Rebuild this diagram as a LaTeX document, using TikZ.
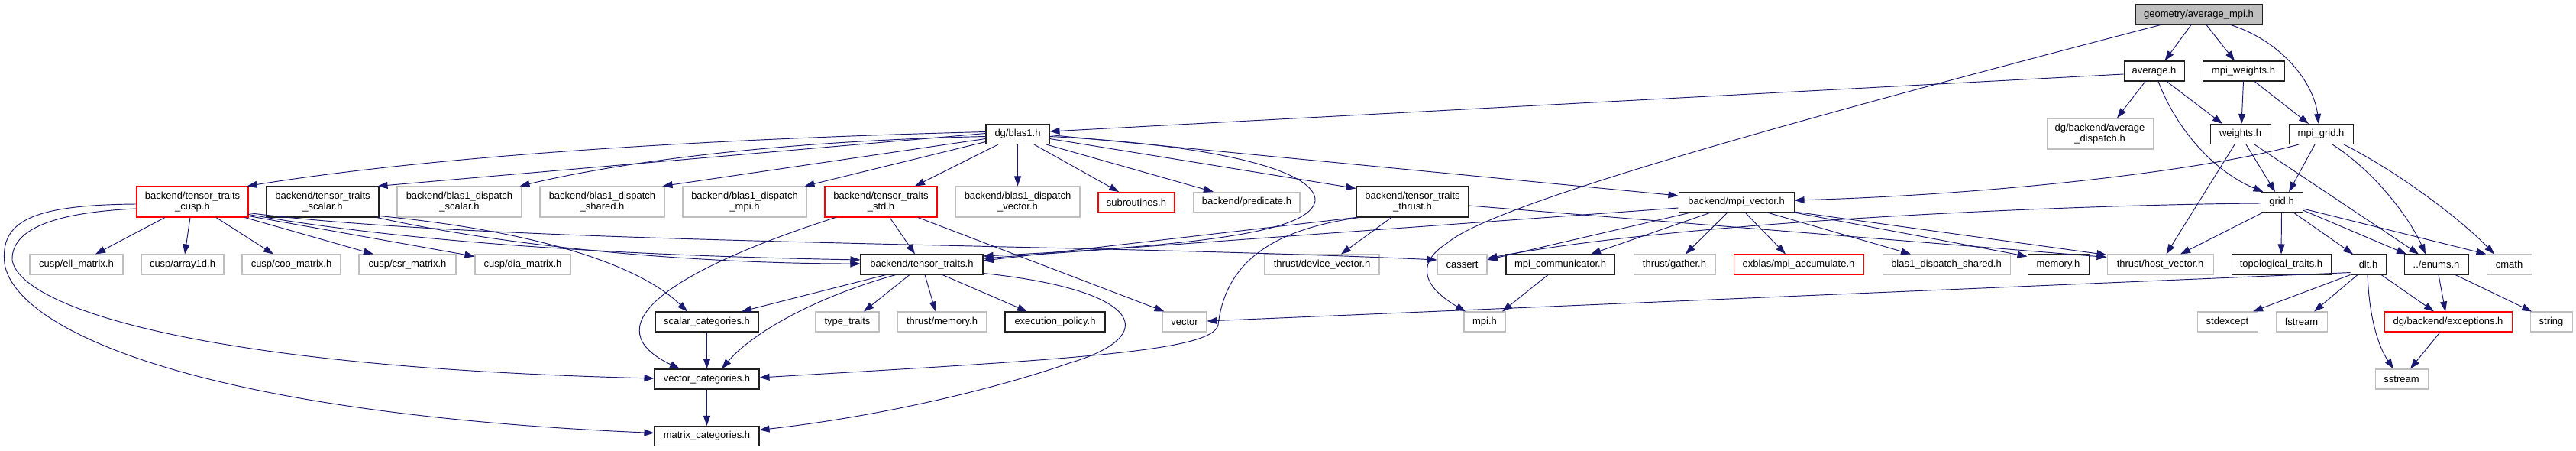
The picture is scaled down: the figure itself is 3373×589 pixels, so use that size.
\documentclass[tikz,border=0pt]{standalone}
\usepackage{fontspec}
\setmainfont{Liberation Sans}
\usetikzlibrary{arrows.meta}
\definecolor{edgec}{HTML}{191970}
\definecolor{extb}{HTML}{BFBFBF}
\definecolor{rootf}{HTML}{BFBFBF}
\definecolor{docb}{HTML}{202020}
\begin{document}
\begin{tikzpicture}[x=1pt,y=-1pt,
  nd/.style={draw, rectangle, line width=1.05pt, inner sep=0pt, align=center,
    font=\fontsize{13}{14}\selectfont, fill=white, minimum height=26pt},
  blk/.style={nd, draw=docb},
  ext/.style={nd, draw=extb},
  inc/.style={nd, draw=red},
  two/.style={minimum height=40pt},
  e/.style={draw=edgec, line width=0.95pt, -{Triangle[length=13pt,width=9pt]}}]
\useasboundingbox (0,0) rectangle (3373,589);
\fill[white] (0,0) rectangle (3373,589);
% row 0-2
\node[blk, fill=rootf, minimum width=166pt] (avgmpi) at (2879,19) {geometry/average\_mpi.h};
\node[blk, minimum width=79pt] (average) at (2820.5,93) {average.h};
\node[blk, minimum width=107pt] (mpiweights) at (2937.5,93) {mpi\_weights.h};
\node[blk, minimum width=83pt] (blas1) at (1332.5,175.5) {dg/blas1.h};
\node[ext, two, minimum width=139pt] (avgdisp) at (2749.5,175) {dg/backend/average\\\_dispatch.h};
\node[blk, minimum width=79pt] (weights) at (2933.5,175.5) {weights.h};
\node[blk, minimum width=84pt] (mpigrid) at (3039,175.5) {mpi\_grid.h};
% row 3
\node[inc, two, minimum width=146pt] (ttcusp) at (252,264) {backend/tensor\_traits\\\_cusp.h};
\node[blk, two, minimum width=147pt] (ttscalar) at (422.5,264) {backend/tensor\_traits\\\_scalar.h};
\node[ext, two, minimum width=163pt] (bdscalar) at (601.5,264) {backend/blas1\_dispatch\\\_scalar.h};
\node[ext, two, minimum width=163pt] (bdshared) at (788.5,264) {backend/blas1\_dispatch\\\_shared.h};
\node[ext, two, minimum width=162pt] (bdmpi) at (975,264) {backend/blas1\_dispatch\\\_mpi.h};
\node[inc, two, minimum width=147pt] (ttstd) at (1153.5,264) {backend/tensor\_traits\\\_std.h};
\node[ext, two, minimum width=163pt] (bdvector) at (1332.5,264) {backend/blas1\_dispatch\\\_vector.h};
\node[inc, minimum width=100pt] (subroutines) at (1488,264.5) {subroutines.h};
\node[ext, minimum width=139pt] (predicate) at (1632.5,264.5) {backend/predicate.h};
\node[blk, two, minimum width=147pt] (ttthrust) at (1849.5,264) {backend/tensor\_traits\\\_thrust.h};
\node[blk, minimum width=151pt] (mpivector) at (2273.5,264.5) {backend/mpi\_vector.h};
\node[blk, minimum width=55pt] (grid) at (2987.5,264.5) {grid.h};
% row 4
\node[ext, minimum width=122pt] (ell) at (100,346) {cusp/ell\_matrix.h};
\node[ext, minimum width=108pt] (array1d) at (239,346) {cusp/array1d.h};
\node[ext, minimum width=129pt] (coo) at (381.5,346) {cusp/coo\_matrix.h};
\node[ext, minimum width=127pt] (csr) at (533.5,346) {cusp/csr\_matrix.h};
\node[ext, minimum width=125pt] (dia) at (684.5,346) {cusp/dia\_matrix.h};
\node[blk, minimum width=160pt] (tt) at (1207,346) {backend/tensor\_traits.h};
\node[ext, minimum width=150pt] (devvec) at (1731,346) {thrust/device\_vector.h};
\node[ext, minimum width=65pt] (cassert) at (1914.5,346) {cassert};
\node[blk, minimum width=142pt] (mpicomm) at (2043,346) {mpi\_communicator.h};
\node[ext, minimum width=107pt] (gather) at (2192.5,346) {thrust/gather.h};
\node[inc, minimum width=170pt] (exblas) at (2355,346) {exblas/mpi\_accumulate.h};
\node[ext, minimum width=167pt] (bdshared2) at (2548.5,346) {blas1\_dispatch\_shared.h};
\node[blk, minimum width=80pt] (memory) at (2695,346) {memory.h};
\node[ext, minimum width=139pt] (hostvec) at (2828.5,346) {thrust/host\_vector.h};
\node[blk, minimum width=130pt] (topo) at (2987,346) {topological\_traits.h};
\node[blk, minimum width=46pt] (dlt) at (3101,346) {dlt.h};
\node[blk, minimum width=84pt] (enums) at (3190,346) {../enums.h};
\node[ext, minimum width=59pt] (cmath) at (3285.5,346) {cmath};
% row 5
\node[blk, minimum width=135pt] (scalarcat) at (925.5,421) {scalar\_categories.h};
\node[ext, minimum width=83pt] (typetraits) at (1109.5,421) {type\_traits};
\node[ext, minimum width=117pt] (thrustmem) at (1233.5,421) {thrust/memory.h};
\node[blk, minimum width=131pt] (execpol) at (1381.5,421) {execution\_policy.h};
\node[ext, minimum width=58pt] (vector) at (1551,421) {vector};
\node[ext, minimum width=54pt] (mpih) at (1944,421) {mpi.h};
\node[ext, minimum width=79pt] (stdexcept) at (2916.5,421) {stdexcept};
\node[ext, minimum width=67pt] (fstream) at (3013.5,421) {fstream};
\node[inc, minimum width=167pt] (exceptions) at (3205.5,421) {dg/backend/exceptions.h};
\node[ext, minimum width=55pt] (string) at (3340.5,421) {string};
% row 6-7
\node[blk, minimum width=137pt] (vectorcat) at (925.5,496) {vector\_categories.h};
\node[ext, minimum width=69pt] (sstream) at (3144.5,496) {sstream};
\node[blk, minimum width=137pt] (matrixcat) at (925.5,570.5) {matrix\_categories.h};
% edges from the root and upper levels
\draw[e] ([xshift=-10pt]avgmpi.south) -- ([xshift=14pt]average.north);
\draw[e] ([xshift=10pt]avgmpi.south) -- ([xshift=-11.5pt]mpiweights.north);
\draw[e] ([xshift=42pt]avgmpi.south) .. controls (2990,55) and (3030,110) .. ([xshift=-3pt]mpigrid.north);
\draw[e] ([xshift=-50pt]avgmpi.south) .. controls (2300,170) and (1950,270) .. (1895,318) .. controls (1860,340) and (1855,370) .. ([xshift=-25pt]mpih.north);
\draw[e] ([yshift=-4pt]average.west) -- ([yshift=3.5pt]blas1.east);
\draw[e] ([xshift=-11.5pt]average.south) -- ([xshift=22.5pt]avgdisp.north);
\draw[e] ([xshift=16.5pt]average.south) -- ([xshift=-23.5pt]weights.north);
\draw[e] ([xshift=5.5pt]average.south) .. controls (2850,170) and (2900,225) .. ([xshift=-24pt]grid.north);
\draw[e] (mpiweights.south) -- ([xshift=1.5pt]weights.north);
\draw[e] ([xshift=14.5pt]mpiweights.south) -- ([xshift=-16pt]mpigrid.north);
\draw[e] ([xshift=7.5pt]weights.south) -- ([xshift=-8.5pt]grid.north);
\draw[e] ([xshift=-8pt]mpigrid.south) -- ([xshift=9.5pt]grid.north);
\draw[e] ([xshift=-7.5pt]weights.south) -- ([xshift=8pt]hostvec.north);
\draw[e] ([xshift=18.5pt]weights.south) -- ([xshift=-23pt]enums.north);
\draw[e] ([xshift=15pt]mpigrid.south) .. controls (3110,225) and (3155,285) .. ([xshift=-14pt]enums.north);
\draw[e] ([xshift=30pt]mpigrid.south) .. controls (3140,225) and (3220,285) .. ([xshift=-19.5pt]cmath.north);
\draw[e] ([xshift=-29pt]mpigrid.south) .. controls (2880,225) and (2600,255) .. ([yshift=2.5pt]mpivector.east);
% grid
\draw[e] ([yshift=-1.5pt]grid.west) .. controls (2700,268) and (2200,290) .. ([yshift=8pt]cassert.east);
\draw[e] ([xshift=-24.5pt]grid.south) -- ([xshift=26.5pt]hostvec.north);
\draw[e] (grid.south) -- (topo.north);
\draw[e] ([xshift=15.5pt]grid.south) -- ([xshift=-20pt]dlt.north);
\draw[e] ([yshift=3pt]grid.south east) -- ([xshift=-39pt]enums.north);
\draw[e] ([yshift=5pt]grid.south east) -- (cmath.north west);
% dlt, enums, exceptions
\draw[e] (dlt.south west) -- ([xshift=33.5pt]stdexcept.north);
\draw[e] ([xshift=-14pt]dlt.south) -- ([xshift=16.5pt]fstream.north);
\draw[e] ([xshift=-1pt]dlt.south) .. controls (3102,410) and (3112,450) .. ([xshift=-10.5pt]sstream.north);
\draw[e] ([xshift=17pt]dlt.south) -- ([xshift=-18.5pt]exceptions.north);
\draw[e] ([yshift=3pt]dlt.south west) -- ([yshift=1pt]vector.east);
\draw[e] ([xshift=3pt]enums.south) -- ([xshift=-3.5pt]exceptions.north);
\draw[e] ([xshift=25pt]enums.south) -- ([xshift=-25.5pt]string.north);
\draw[e] ([xshift=-10.5pt]exceptions.south) -- ([xshift=11.5pt]sstream.north);
% mpi vector
\draw[e] ([xshift=-16pt]mpicomm.south) -- ([xshift=23pt]mpih.north);
\draw[e] ([xshift=-11.5pt]mpivector.south) -- ([xshift=14.5pt]gather.north);
\draw[e] ([xshift=-33.5pt]mpivector.south) -- ([xshift=40pt]mpicomm.north);
\draw[e] ([xshift=-59.5pt]mpivector.south) -- ([yshift=6pt]cassert.east);
\draw[e] ([xshift=11.5pt]mpivector.south) -- ([xshift=-17pt]exblas.north);
\draw[e] ([xshift=40.5pt]mpivector.south) -- ([xshift=-46.5pt]bdshared2.north);
\draw[e] (mpivector.south east) -- ([yshift=-3pt]memory.north west);
\draw[e] ([yshift=1pt]mpivector.south east) -- ([yshift=-1pt]hostvec.north west);
\draw[e] ([yshift=-7.5pt]mpivector.west) -- ([yshift=8pt]tt.east);
% tensor traits thrust
\draw[e] ([yshift=-5pt]ttthrust.east) -- ([yshift=-4pt]hostvec.north west);
\draw[e] ([xshift=-27.5pt]ttthrust.south) -- ([xshift=25pt]devvec.north);
\draw[e] (ttthrust.south west) -- ([yshift=5pt]tt.east);
\draw[e] ([xshift=4pt]ttthrust.south west) .. controls (1670,300) and (1605,340) .. (1595,425) .. controls (1588,460) and (1400,470) .. ([yshift=2pt]vectorcat.east);
% blas1
\draw[e] ([xshift=-25.5pt]blas1.south) -- ([xshift=44.5pt]ttstd.north);
\draw[e] (blas1.south) -- (bdvector.north);
\draw[e] ([xshift=21.5pt]blas1.south) -- ([xshift=-23pt]subroutines.north);
\draw[e] ([xshift=37.5pt]blas1.south) -- ([xshift=-43.5pt]predicate.north);
\draw[e] ([yshift=-6pt]blas1.east) -- ([yshift=-3pt]ttthrust.north west);
\draw[e] ([yshift=-1pt]blas1.east) -- ([yshift=-5pt]mpivector.north west);
\draw[e] ([yshift=-3pt]blas1.east) .. controls (1600,190) and (1725,225) .. (1722,263) .. controls (1715,300) and (1600,320) .. ([yshift=11pt]tt.east);
\draw[e] ([yshift=-10pt]blas1.west) -- ([xshift=-3pt]bdmpi.north east);
\draw[e] ([yshift=-6pt]blas1.west) -- ([xshift=-3pt]bdshared.north east);
\draw[e] ([yshift=-3pt]blas1.west) .. controls (1000,185) and (800,215) .. ([xshift=-3pt]bdscalar.north east);
\draw[e] ([yshift=1pt]blas1.west) -- ([xshift=-2pt]ttscalar.north east);
\draw[e] ([yshift=3pt]blas1.west) .. controls (800,185) and (500,215) .. ([xshift=-2pt]ttcusp.north east);
% tensor traits cusp
\draw[e] ([xshift=-36pt]ttcusp.south) -- ([xshift=25pt]ell.north);
\draw[e] ([xshift=-3pt]ttcusp.south) -- ([xshift=3pt]array1d.north);
\draw[e] ([xshift=31pt]ttcusp.south) -- ([xshift=-23.5pt]coo.north);
\draw[e] ([xshift=-5pt]ttcusp.south east) -- ([xshift=-44.5pt]csr.north);
\draw[e] ([yshift=2pt]ttcusp.south east) -- ([yshift=-3pt]dia.north west);
\draw[e] ([yshift=4pt]ttcusp.south east) .. controls (550,320) and (850,335) .. ([yshift=6pt]tt.west);
\draw[e] ([yshift=6pt]ttcusp.south east) .. controls (650,320) and (1400,318) .. ([yshift=6pt]cassert.west);
\draw[e] ([yshift=-3pt]ttcusp.west) .. controls (40,268) and (0,290) .. (6,345) .. controls (20,430) and (250,540) .. ([yshift=4pt]matrixcat.west);
\draw[e] ([yshift=-9pt]ttcusp.west) .. controls (70,278) and (15,300) .. (16,340) .. controls (25,400) and (250,480) .. ([yshift=1pt]vectorcat.west);
% tensor traits scalar / std
\draw[e] ([yshift=2pt]ttscalar.south east) .. controls (680,300) and (830,340) .. ([xshift=-25.5pt]scalarcat.north);
\draw[e] ([xshift=-3pt]ttscalar.south east) .. controls (700,330) and (950,345) .. ([yshift=1pt]tt.west);
\draw[e] ([xshift=11.5pt]ttstd.south) -- ([xshift=-9pt]tt.north);
\draw[e] ([xshift=48.5pt]ttstd.south) -- ([xshift=3pt]vector.north west);
\draw[e] ([xshift=-59.5pt]ttstd.south) .. controls (860,360) and (780,430) .. ([xshift=-35.5pt]vectorcat.north);
% tensor traits
\draw[e] ([xshift=-47pt]tt.south) -- ([xshift=45.5pt]scalarcat.north);
\draw[e] ([xshift=-34pt]tt.south) .. controls (1080,385) and (990,430) .. ([xshift=19.5pt]vectorcat.north);
\draw[e] ([xshift=-16pt]tt.south) -- ([xshift=21.5pt]typetraits.north);
\draw[e] ([xshift=4pt]tt.south) -- ([xshift=-8.5pt]thrustmem.north);
\draw[e] ([xshift=27pt]tt.south) -- ([xshift=-36.5pt]execpol.north);
\draw[e] ([yshift=2pt]tt.south east) .. controls (1500,380) and (1520,440) .. (1400,475) .. controls (1300,510) and (1150,545) .. ([yshift=8pt]matrixcat.east);
\draw[e] (scalarcat) -- (vectorcat);
\draw[e] (vectorcat) -- (matrixcat);
\end{tikzpicture}
\end{document}
